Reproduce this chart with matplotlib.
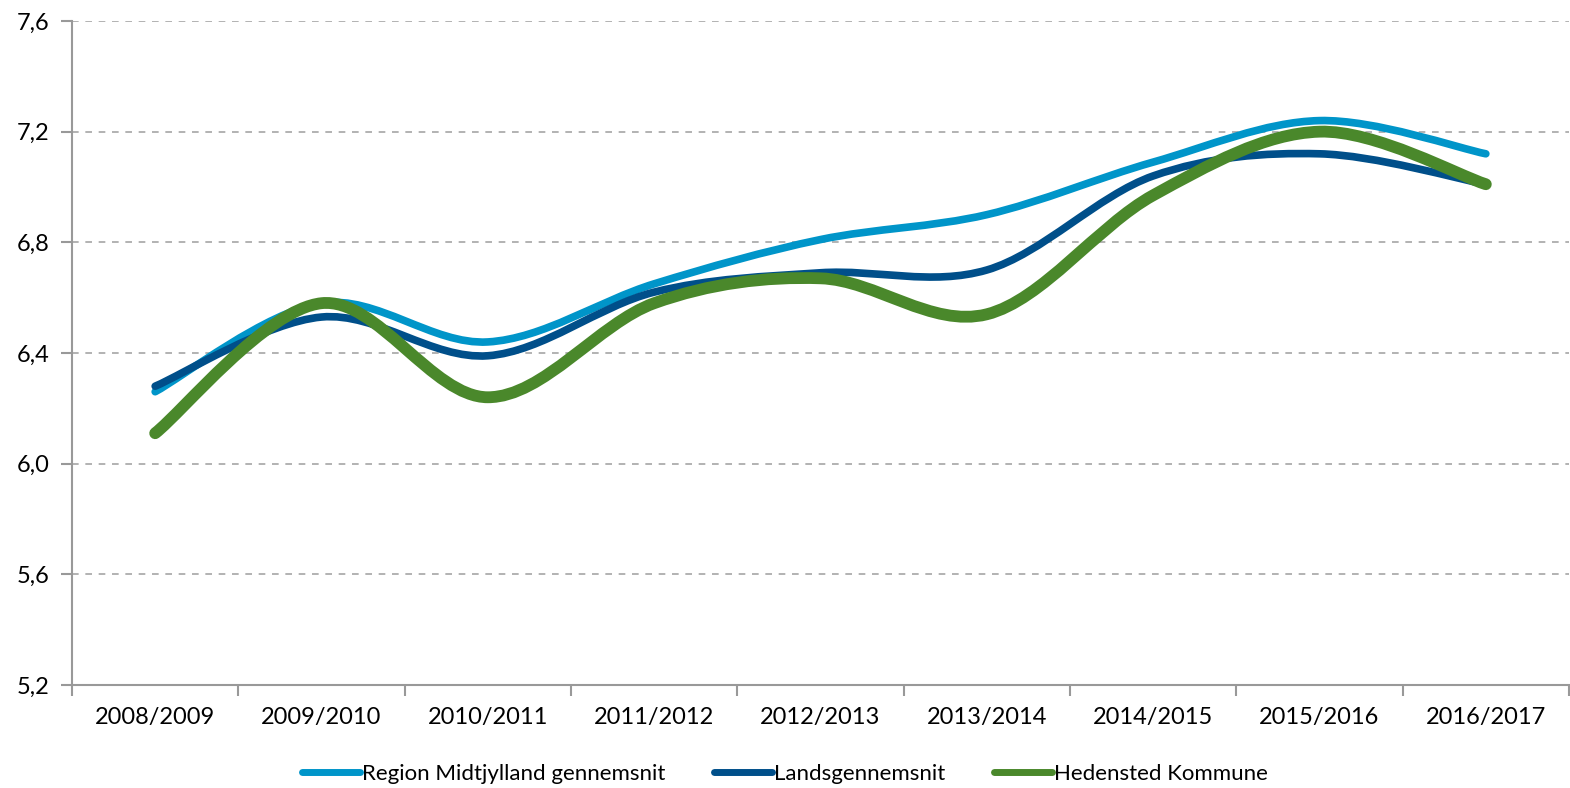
import numpy as np
import matplotlib
matplotlib.use("Agg")
import matplotlib.pyplot as plt
from matplotlib.path import Path
from matplotlib.patches import PathPatch
from matplotlib.lines import Line2D
from matplotlib.ticker import FuncFormatter

plt.rcParams['font.family'] = ['Lato', 'DejaVu Sans']

years = ["2008/2009", "2009/2010", "2010/2011", "2011/2012", "2012/2013",
         "2013/2014", "2014/2015", "2015/2016", "2016/2017"]

region = [6.26, 6.58, 6.44, 6.65, 6.81, 6.90, 7.09, 7.24, 7.12]
lands = [6.28, 6.53, 6.39, 6.62, 6.69, 6.70, 7.04, 7.12, 7.01]
hedensted = [6.11, 6.58, 6.24, 6.58, 6.67, 6.54, 6.97, 7.20, 7.01]

series_names = ["Region Midtjylland gennemsnit", "Landsgennemsnit", "Hedensted Kommune"]
colors = ["#0095c9", "#004f8a", "#4a882b"]
widths = [5.5, 5.5, 8.5]


def smooth_path(xs, ys):
    # excel style smoothed line as cubic bezier segments
    pts = np.column_stack([xs, ys]).astype(float)
    n = len(pts)
    verts = [pts[0]]
    codes = [Path.MOVETO]
    for i in range(n - 1):
        p0 = pts[i - 1] if i > 0 else pts[i]
        p1 = pts[i]
        p2 = pts[i + 1]
        p3 = pts[i + 2] if i + 2 < n else pts[i + 1]
        c1 = p1 + (p2 - p0) / 6.0
        c2 = p2 - (p3 - p1) / 6.0
        verts += [c1, c2, p2]
        codes += [Path.CURVE4] * 3
    return Path(verts, codes)


fig = plt.figure(figsize=(15.7, 7.88), dpi=100)
ax = fig.add_axes([72 / 1570, 1 - 685 / 788, (1569 - 72) / 1570, (685 - 21) / 788])

x = np.arange(len(years))
handles = []
for vals, name, c, w in zip([region, lands, hedensted], series_names, colors, widths):
    path = smooth_path(x, vals)
    ax.add_patch(PathPatch(path, fill=False, edgecolor=c, lw=w,
                           capstyle='round', joinstyle='round', zorder=3))
    handles.append(Line2D([], [], color=c, lw=5, solid_capstyle='round', label=name))

ax.set_xlim(-0.5, len(years) - 0.5)
ax.set_ylim(5.2, 7.6)
ax.set_yticks(np.arange(5.2, 7.61, 0.4))
ax.yaxis.set_major_formatter(FuncFormatter(lambda v, p: ("%.1f" % v).replace(".", ",")))
ax.set_xticks(x)
ax.set_xticklabels(years)
ax.set_xticks(np.arange(-0.5, len(years), 1), minor=True)

ax.yaxis.grid(True, color="#a6a6a6", ls=(0, (4, 4)), lw=1.2)
ax.set_axisbelow(True)

for s in ["top", "right"]:
    ax.spines[s].set_visible(False)
for s in ["left", "bottom"]:
    ax.spines[s].set_color("#999999")
    ax.spines[s].set_linewidth(1.5)

ax.tick_params(axis='x', which='major', length=0, pad=16, labelsize=17)
ax.tick_params(axis='x', which='minor', length=8, color="#999999", width=1.5)
ax.tick_params(axis='y', length=8, color="#999999", width=1.5, labelsize=17, pad=8)

leg = fig.legend(handles=handles, loc="lower center", ncol=3, frameon=False,
                 fontsize=16, bbox_to_anchor=(0.5, -0.02), handlelength=2.6,
                 handletextpad=0.1, columnspacing=2.2)

fig.savefig("out.png", dpi=100)
